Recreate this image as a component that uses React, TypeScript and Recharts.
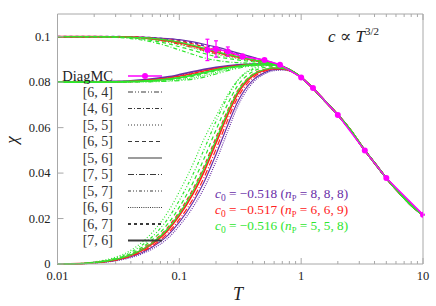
import { ErrorBar, Line, LineChart, XAxis, YAxis } from "recharts";

// temperature grid of the Pade curves (below T ~ 1 they split, above they coincide)
const T_LOW = [0.01, 0.015, 0.02, 0.03, 0.04, 0.05, 0.06, 0.08, 0.1, 0.13, 0.16, 0.2, 0.25, 0.3, 0.4, 0.5, 0.6, 0.7, 0.85];
const T_TAIL = [1, 1.25, 1.6, 2, 2.5, 3.3, 4, 5, 6.5, 8, 10];
const CHI_TAIL = [0.0821, 0.0773, 0.0712, 0.0656, 0.0594, 0.0503, 0.0445, 0.0378, 0.0309, 0.0258, 0.0216];

// branch starting at chi = 0.1
const pU1 = [0.1, 0.1, 0.1, 0.1, 0.0999, 0.0998, 0.0996, 0.0992, 0.0987, 0.0977, 0.0967, 0.0955, 0.0941, 0.0929, 0.091, 0.0896, 0.0884, 0.0871, 0.0848];
const pU2 = [0.1, 0.1, 0.1, 0.1, 0.0999, 0.0997, 0.0995, 0.099, 0.0983, 0.0972, 0.0961, 0.0948, 0.0934, 0.0923, 0.0906, 0.0893, 0.0882, 0.087, 0.0847];
const rU1 = [0.1, 0.1, 0.1, 0.1, 0.0999, 0.0997, 0.0994, 0.0987, 0.098, 0.0968, 0.0955, 0.0941, 0.0928, 0.0918, 0.0901, 0.089, 0.088, 0.0869, 0.0847];
const rU2 = [0.1, 0.1, 0.1, 0.0999, 0.0998, 0.0995, 0.0991, 0.0982, 0.0973, 0.0959, 0.0946, 0.0932, 0.092, 0.0911, 0.0897, 0.0888, 0.0879, 0.0868, 0.0847];
const rU3 = [0.1, 0.1, 0.1, 0.0999, 0.0997, 0.0994, 0.0989, 0.0978, 0.0967, 0.0952, 0.0939, 0.0926, 0.0915, 0.0907, 0.0895, 0.0887, 0.0878, 0.0868, 0.0847];
const gU1 = [0.1, 0.1, 0.1, 0.1, 0.0998, 0.0996, 0.0993, 0.0985, 0.0976, 0.0962, 0.0949, 0.0935, 0.0922, 0.0913, 0.0899, 0.0889, 0.0879, 0.0869, 0.0847];
const gU2 = [0.1, 0.1, 0.1, 0.0999, 0.0997, 0.0993, 0.0988, 0.0977, 0.0965, 0.095, 0.0936, 0.0922, 0.0911, 0.0904, 0.0894, 0.0886, 0.0878, 0.0868, 0.0847];
const gU3 = [0.1, 0.1, 0.1, 0.0998, 0.0995, 0.099, 0.0983, 0.097, 0.0956, 0.094, 0.0926, 0.0913, 0.0904, 0.0898, 0.089, 0.0884, 0.0877, 0.0867, 0.0847];
const gU4 = [0.1, 0.1, 0.0999, 0.0997, 0.0992, 0.0985, 0.0977, 0.0959, 0.0942, 0.0922, 0.0907, 0.0896, 0.0889, 0.0886, 0.0883, 0.0881, 0.0876, 0.0867, 0.0847];

// branch starting at chi = 0.08
const pM1 = [0.08, 0.08, 0.0801, 0.0803, 0.0806, 0.081, 0.0814, 0.0823, 0.0833, 0.0846, 0.0856, 0.0865, 0.0872, 0.0876, 0.0879, 0.0879, 0.0876, 0.0868, 0.0847];
const pM2 = [0.08, 0.08, 0.0801, 0.0802, 0.0805, 0.0808, 0.0812, 0.082, 0.083, 0.0843, 0.0853, 0.0863, 0.087, 0.0875, 0.0878, 0.0879, 0.0876, 0.0868, 0.0847];
const rM1 = [0.08, 0.08, 0.08, 0.0802, 0.0804, 0.0807, 0.0811, 0.0818, 0.0827, 0.0839, 0.085, 0.086, 0.0868, 0.0873, 0.0877, 0.0878, 0.0876, 0.0868, 0.0847];
const rM2 = [0.08, 0.08, 0.08, 0.0802, 0.0803, 0.0805, 0.0808, 0.0815, 0.0823, 0.0835, 0.0846, 0.0857, 0.0866, 0.0872, 0.0877, 0.0878, 0.0876, 0.0868, 0.0847];
const rM3 = [0.08, 0.08, 0.08, 0.0801, 0.0802, 0.0804, 0.0806, 0.0812, 0.0819, 0.0831, 0.0842, 0.0854, 0.0864, 0.0871, 0.0876, 0.0878, 0.0876, 0.0868, 0.0847];
const gM1 = [0.08, 0.08, 0.08, 0.0801, 0.0803, 0.0805, 0.0807, 0.0813, 0.082, 0.0831, 0.0842, 0.0854, 0.0864, 0.087, 0.0876, 0.0878, 0.0877, 0.0868, 0.0847];
const gM2 = [0.08, 0.08, 0.08, 0.0801, 0.0802, 0.0803, 0.0805, 0.081, 0.0816, 0.0826, 0.0837, 0.085, 0.0861, 0.0868, 0.0875, 0.0878, 0.0877, 0.0868, 0.0847];
const gM3 = [0.08, 0.08, 0.08, 0.08, 0.0801, 0.0802, 0.0803, 0.0806, 0.0811, 0.0819, 0.0829, 0.0843, 0.0856, 0.0865, 0.0874, 0.0877, 0.0877, 0.0868, 0.0847];
const gM4 = [0.08, 0.08, 0.08, 0.08, 0.0801, 0.0801, 0.0802, 0.0804, 0.0807, 0.0813, 0.0822, 0.0836, 0.0851, 0.0861, 0.0872, 0.0876, 0.0876, 0.0868, 0.0847];

// branch starting at chi = 0
const pL1 = [0, 0.0001, 0.0004, 0.0014, 0.0028, 0.0046, 0.0066, 0.0112, 0.0168, 0.0252, 0.0335, 0.0452, 0.0585, 0.0692, 0.0797, 0.0836, 0.0851, 0.0853, 0.0845];
const pL2 = [0, 0.0001, 0.0005, 0.0016, 0.0032, 0.0052, 0.0075, 0.0125, 0.0184, 0.0273, 0.0362, 0.0482, 0.0612, 0.0712, 0.0808, 0.0842, 0.0855, 0.0856, 0.0846];
const rL1 = [0, 0.0001, 0.0005, 0.0017, 0.0034, 0.0056, 0.008, 0.0134, 0.0196, 0.0288, 0.0382, 0.0505, 0.0635, 0.073, 0.0818, 0.0848, 0.0858, 0.0859, 0.0846];
const rL2 = [0, 0.0001, 0.0006, 0.0019, 0.0038, 0.0062, 0.0089, 0.0147, 0.0213, 0.0311, 0.0408, 0.0533, 0.0658, 0.0748, 0.0828, 0.0853, 0.0861, 0.086, 0.0846];
const rL3 = [0, 0.0001, 0.0006, 0.0021, 0.0042, 0.0068, 0.0097, 0.016, 0.023, 0.0332, 0.0432, 0.0557, 0.0678, 0.0762, 0.0835, 0.0857, 0.0863, 0.0861, 0.0846];
const gL1 = [0, 0.0001, 0.0006, 0.002, 0.004, 0.0065, 0.0093, 0.0154, 0.0222, 0.0323, 0.0422, 0.0547, 0.067, 0.0757, 0.0833, 0.0856, 0.0863, 0.0861, 0.0846];
const gL2 = [0, 0.0002, 0.0007, 0.0023, 0.0046, 0.0075, 0.0107, 0.0175, 0.025, 0.036, 0.0465, 0.059, 0.0705, 0.0783, 0.0846, 0.0865, 0.0869, 0.0864, 0.0847];
const gL3 = [0, 0.0002, 0.0008, 0.0026, 0.0052, 0.0085, 0.012, 0.0197, 0.028, 0.0397, 0.0505, 0.0628, 0.0736, 0.0805, 0.0856, 0.0872, 0.0874, 0.0866, 0.0847];
const gL4 = [0, 0.0002, 0.0009, 0.003, 0.006, 0.0098, 0.0139, 0.0226, 0.0318, 0.0442, 0.0552, 0.065, 0.0745, 0.0808, 0.0862, 0.0876, 0.0877, 0.0868, 0.0847];

// DiagMC
const DIAG_T = [0.17, 0.2, 0.25, 0.33, 0.5, 0.67, 1, 1.25, 2, 3.33, 5, 10];
const DIAG_CHI = [0.0942, 0.0946, 0.0935, 0.0913, 0.0898, 0.0877, 0.0821, 0.0774, 0.0656, 0.0499, 0.0378, 0.0217];
const DIAG_ERR = [0.0047, 0.0036, 0.002, 0.001, 0.0005, 0.0003, 0.0002, 0.0002, 0.0002, 0.0002, 0.0002, 0.0002];

const X_MAJOR = [0.01, 0.1, 1, 10];
const X_LABELS = ["0.01", "0.1", "1", "10"];
const X_MINOR = [0.02, 0.03, 0.04, 0.05, 0.06, 0.07, 0.08, 0.09, 0.2, 0.3, 0.4, 0.5, 0.6, 0.7, 0.8, 0.9, 2, 3, 4, 5, 6, 7, 8, 9];
const Y_TICKS = [0, 0.02, 0.04, 0.06, 0.08, 0.1];
const Y_LABELS = ["0", "0.02", "0.04", "0.06", "0.08", "0.1"];

const PADE = ["[6, 4]", "[4, 6]", "[5, 5]", "[6, 5]", "[5, 6]", "[7, 5]", "[5, 7]", "[6, 6]", "[6, 7]", "[7, 6]"];
const C0 = ["−0.518", "−0.517", "−0.516"];
const NP = ["8, 8, 8", "6, 6, 9", "5, 5, 8"];

const PURPLE = "#6a2fa8";
const RED = "#ff2020";
const GREEN = "#2ee62e";
const MAGENTA = "#ff00ff";
const FRAME = "#a8a8a8";
const SERIF = { fontFamily: "Liberation Serif, DejaVu Serif, serif" };

// line style of each Pade order, same order as PADE
const STYLES = [
  { dash: "5 2 1 2 1 2", w: 1.2 },
  { dash: "4 2 1 2", w: 1.2 },
  { dash: "1 2", w: 1.2 },
  { dash: "4 3", w: 1.2 },
  { dash: undefined, w: 1.2 },
  { dash: "6 2 1 2", w: 1.2 },
  { dash: "3 2 1 2 1 2", w: 1.2 },
  { dash: "1 1.2", w: 1.2 },
  { dash: "3 3", w: 1.8 },
  { dash: undefined, w: 1.8 },
];

const CURVES = [
  { key: "pU1", vals: pU1, color: PURPLE, style: 4 },
  { key: "pU2", vals: pU2, color: PURPLE, style: 8 },
  { key: "pM1", vals: pM1, color: PURPLE, style: 9 },
  { key: "pM2", vals: pM2, color: PURPLE, style: 2 },
  { key: "pL1", vals: pL1, color: PURPLE, style: 7 },
  { key: "pL2", vals: pL2, color: PURPLE, style: 4 },
  { key: "rU1", vals: rU1, color: RED, style: 3 },
  { key: "rU2", vals: rU2, color: RED, style: 9 },
  { key: "rU3", vals: rU3, color: RED, style: 0 },
  { key: "rM1", vals: rM1, color: RED, style: 4 },
  { key: "rM2", vals: rM2, color: RED, style: 8 },
  { key: "rM3", vals: rM3, color: RED, style: 6 },
  { key: "rL1", vals: rL1, color: RED, style: 5 },
  { key: "rL2", vals: rL2, color: RED, style: 9 },
  { key: "rL3", vals: rL3, color: RED, style: 3 },
  { key: "gU1", vals: gU1, color: GREEN, style: 4 },
  { key: "gU2", vals: gU2, color: GREEN, style: 2 },
  { key: "gU3", vals: gU3, color: GREEN, style: 3 },
  { key: "gU4", vals: gU4, color: GREEN, style: 1 },
  { key: "gM1", vals: gM1, color: GREEN, style: 9 },
  { key: "gM2", vals: gM2, color: GREEN, style: 3 },
  { key: "gM3", vals: gM3, color: GREEN, style: 7 },
  { key: "gM4", vals: gM4, color: GREEN, style: 0 },
  { key: "gL1", vals: gL1, color: GREEN, style: 4 },
  { key: "gL2", vals: gL2, color: GREEN, style: 3 },
  { key: "gL3", vals: gL3, color: GREEN, style: 6 },
  { key: "gL4", vals: gL4, color: GREEN, style: 2 },
];

const T_ALL = [...T_LOW, ...T_TAIL];
const rows = T_ALL.map((T, i) => {
  const r: Record<string, number> = { T };
  CURVES.forEach((c) => {
    r[c.key] = i < T_LOW.length ? c.vals[i] : CHI_TAIL[i - T_LOW.length];
  });
  return r;
});
const diag = DIAG_T.map((T, i) => ({ T, chi: DIAG_CHI[i], err: DIAG_ERR[i] }));

const W = 436;
const H = 306;
// axes take 1px each, so the plot box is 57.5..423 x 14..264
const M = { top: 13, right: 12, bottom: 41, left: 56.5 };

function BottomTick(p: any) {
  const v = p.payload.value;
  const k = X_MAJOR.indexOf(v);
  return (
    <g>
      <line x1={p.x} x2={p.x} y1={p.y} y2={p.y - (k >= 0 ? 6 : 3)} stroke={FRAME} />
      {k >= 0 && (
        <text x={p.x} y={p.y + 16} textAnchor="middle" fontSize={12.5} style={SERIF} fill="#222">
          {X_LABELS[k]}
        </text>
      )}
    </g>
  );
}

function TopTick(p: any) {
  const major = X_MAJOR.includes(p.payload.value);
  return <line x1={p.x} x2={p.x} y1={p.y} y2={p.y + (major ? 6 : 3)} stroke={FRAME} />;
}

function LeftTick(p: any) {
  const k = Y_TICKS.indexOf(p.payload.value);
  return (
    <g>
      <line x1={p.x} x2={p.x + 6} y1={p.y} y2={p.y} stroke={FRAME} />
      <text x={p.x - 7} y={p.y + 4} textAnchor="end" fontSize={12.5} style={SERIF} fill="#222">
        {Y_LABELS[k]}
      </text>
    </g>
  );
}

function RightTick(p: any) {
  return <line x1={p.x} x2={p.x - 6} y1={p.y} y2={p.y} stroke={FRAME} />;
}

function Overlay() {
  const colors = [PURPLE, RED, GREEN];
  return (
    <svg width={W} height={H} style={{ position: "absolute", left: 0, top: 0, pointerEvents: "none", ...SERIF }}>
      {/* legend */}
      <text x={113} y={80.5} textAnchor="end" fontSize={14.5} fill="#222">DiagMC</text>
      <line x1={128} x2={162} y1={76} y2={76} stroke={MAGENTA} strokeWidth={1.5} />
      <circle cx={145} cy={76} r={3} fill={MAGENTA} />
      {PADE.map((lab, i) => {
        const y = 92 + i * 16.5;
        const s = STYLES[i];
        return (
          <g key={lab}>
            <text x={113} y={y + 4.5} textAnchor="end" fontSize={14} fill="#333">{lab}</text>
            <line x1={128} x2={162} y1={y} y2={y} stroke="#3a3a3a" strokeWidth={s.w} strokeDasharray={s.dash} />
          </g>
        );
      })}
      {/* annotation */}
      <text x={328} y={42} fontSize={17} fill="#222">
        <tspan fontStyle="italic">c</tspan>
        <tspan> ∝ </tspan>
        <tspan fontStyle="italic">T</tspan>
        <tspan fontSize={11} dy={-7}>3/2</tspan>
      </text>
      {C0.map((c, i) => (
        <text key={c} x={215} y={197.5 + i * 16} fontSize={13.3} fill={colors[i]}>
          <tspan fontStyle="italic">c</tspan>
          <tspan fontSize={9.5} dy={3}>0</tspan>
          <tspan dy={-3}>{` = ${c} (`}</tspan>
          <tspan fontStyle="italic">n</tspan>
          <tspan fontSize={8.5} dy={3}>P</tspan>
          <tspan dy={-3}>{` = ${NP[i]})`}</tspan>
        </text>
      ))}
      {/* axis titles */}
      <text x={238} y={300} textAnchor="middle" fontSize={18} fontStyle="italic" fill="#222">T</text>
      <text
        x={11}
        y={140}
        textAnchor="middle"
        dominantBaseline="central"
        fontSize={17}
        fontStyle="italic"
        fill="#222"
        transform="rotate(-90 11 140)"
      >
        χ
      </text>
    </svg>
  );
}

export default function App() {
  const xTicks = [...X_MAJOR, ...X_MINOR];
  return (
    <div style={{ position: "absolute", left: 0, top: 0, width: W, height: H, background: "#fff" }}>
      <LineChart width={W} height={H} data={rows} margin={M}>
        <XAxis
          dataKey="T"
          type="number"
          scale="log"
          domain={[0.01, 10]}
          allowDataOverflow
          ticks={xTicks}
          interval={0}
          height={1}
          tickSize={0}
          tickMargin={0}
          tick={BottomTick}
          stroke={FRAME}
        />
        <XAxis
          xAxisId="top"
          orientation="top"
          dataKey="T"
          type="number"
          scale="log"
          domain={[0.01, 10]}
          allowDataOverflow
          ticks={xTicks}
          interval={0}
          height={1}
          tickSize={0}
          tickMargin={0}
          tick={TopTick}
          stroke={FRAME}
        />
        <YAxis
          type="number"
          domain={[0, 0.11]}
          ticks={Y_TICKS}
          interval={0}
          width={1}
          tickSize={0}
          tickMargin={0}
          tick={LeftTick}
          stroke={FRAME}
        />
        <YAxis
          yAxisId="r"
          orientation="right"
          type="number"
          domain={[0, 0.11]}
          ticks={Y_TICKS}
          interval={0}
          width={1}
          tickSize={0}
          tickMargin={0}
          tick={RightTick}
          stroke={FRAME}
        />
        {CURVES.map((c) => (
          <Line
            key={c.key}
            dataKey={c.key}
            type="monotone"
            stroke={c.color}
            strokeWidth={STYLES[c.style].w}
            strokeDasharray={STYLES[c.style].dash}
            dot={false}
            isAnimationActive={false}
          />
        ))}
        <Line
          data={diag}
          dataKey="chi"
          stroke={MAGENTA}
          strokeWidth={1.5}
          dot={{ r: 3, fill: MAGENTA, stroke: MAGENTA, strokeWidth: 0 }}
          isAnimationActive={false}
        >
          <ErrorBar dataKey="err" width={2} stroke={MAGENTA} strokeWidth={1.2} direction="y" />
        </Line>
      </LineChart>
      <Overlay />
    </div>
  );
}
